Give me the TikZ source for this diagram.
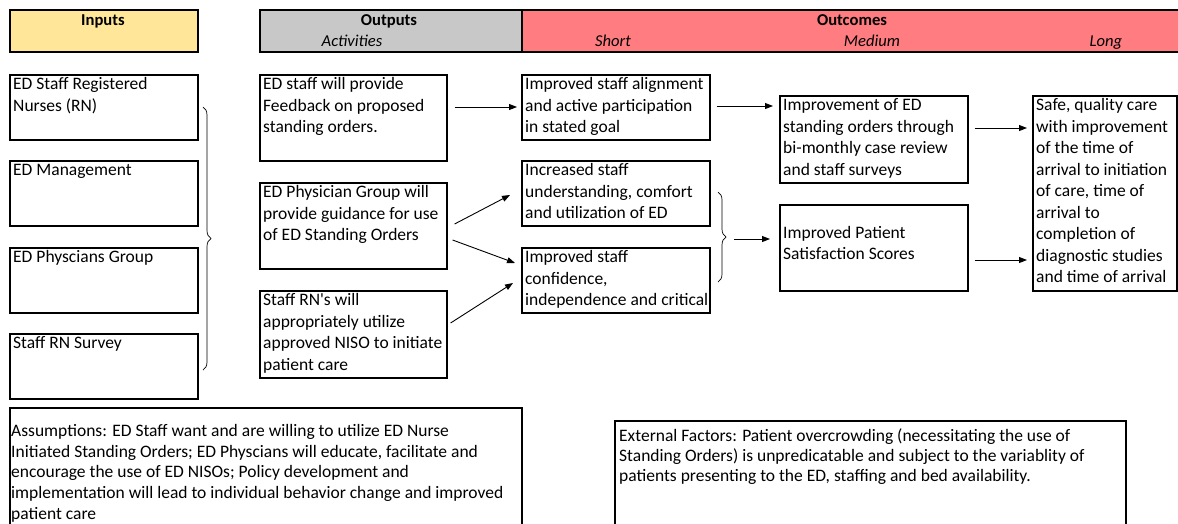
\documentclass[tikz,border=0pt]{standalone}
\usepackage{fontspec}
\setmainfont{Carlito}
\usetikzlibrary{arrows.meta,calc,decorations.pathreplacing}
\definecolor{inyel}{HTML}{FFE699}
\definecolor{outgray}{HTML}{C8C8C8}
\definecolor{outrose}{HTML}{FF7C80}
\newcommand\lmbox[7]{%
  \node[boxst, minimum width={#4-#2}, minimum height={#5-#3}] (#1) at (#2,#3) {};
  \node[txt] (#1t) at ($(#1.north west)+(4,#6)$) {\strut #7};}
\begin{document}
\begin{tikzpicture}[x=1pt,y=-1pt,
  boxst/.style={draw=black, line width=1.6pt, inner sep=0pt, anchor=north west},
  txt/.style={anchor=north west, inner sep=0pt, align=left, font=\fontsize{17.5}{21.5}\selectfont},
  hdr/.style={anchor=base, inner sep=0pt, font=\fontsize{16.6}{20}\selectfont},
  arr/.style={line width=0.9pt, -{Triangle[length=8pt,width=6pt]}},
  brc/.style={line width=0.7pt, decorate, decoration={brace, amplitude=8pt}}]
\useasboundingbox (0,0) rectangle (1178,523);
\clip (0,0) rectangle (1178,523);
% headers
\node[boxst, fill=inyel, minimum width=188, minimum height=42] (hin) at (9,9) {};
\node[boxst, fill=outgray, minimum width=262, minimum height=42] (hout) at (259,9) {};
\node[boxst, fill=outrose, minimum width=662, minimum height=42] (hoc) at (521,9) {};
\node[hdr] (tin) at (103,25) {\textbf{Inputs}};
\node[hdr] (tout) at (389,25) {\textbf{Outputs}};
\node[hdr] (tact) at (352,46.5) {\textit{Activities}};
\node[hdr] (toc) at (852,25) {\textbf{Outcomes}};
\node[hdr] (tsh) at (613,46.5) {\textit{Short}};
\node[hdr] (tmed) at (872,46.5) {\textit{Medium}};
\node[hdr] (tlong) at (1106,46.5) {\textit{Long}};
% inputs
\lmbox{i1}{9}{74}{197}{139}{0.5}{ED Staff Registered\\Nurses (RN)}
\lmbox{i2}{9}{160}{197}{225}{0.5}{ED Management}
\lmbox{i3}{9}{247}{197}{312}{0.5}{ED Physcians Group}
\lmbox{i4}{9}{333}{197}{398}{0.5}{Staff RN Survey}
% activities
\lmbox{a1}{259}{74}{446}{160}{0.5}{ED staff will provide\\Feedback on proposed\\standing orders.}
\lmbox{a2}{259}{182}{446}{268}{0.5}{ED Physician Group will\\provide guidance for use\\of ED Standing Orders}
\lmbox{a3}{259}{290}{446}{377}{0.5}{Staff RN\textquotesingle s will\\appropriately utilize\\approved NISO to initiate\\patient care}
% short
\lmbox{s1}{521}{74}{709}{139}{0.5}{Improved staff alignment\\and active participation\\in stated goal}
\lmbox{s2}{521}{160}{709}{225}{0.5}{Increased staff\\understanding, comfort\\and utilization of ED}
\lmbox{s3}{521}{247}{709}{312}{0.5}{Improved staff\\confidence,\\independence and critical}
% medium
\lmbox{m1}{779}{95}{967}{182}{0.5}{Improvement of ED\\standing orders through\\bi-monthly case review\\and staff surveys}
\lmbox{m2}{779}{204}{967}{290}{19}{Improved Patient\\Satisfaction Scores}
% long
\lmbox{lg}{1032}{95}{1176}{290}{0.5}{Safe, quality care\\with improvement\\of the time of\\arrival to initiation\\of care, time of\\arrival to\\completion of\\diagnostic studies\\and time of arrival}
% braces
\draw[brc] (203,107) -- (203,370);
\draw[brc] (718,192) -- (718,282);
\coordinate (b2tip) at (727,238);
% arrows
\draw[arr] ($(a1.north east)+(7,33)$) -- ($(s1.north west)+(-4,33)$);
\draw[arr] ($(a2.north east)+(7,42)$) -- ($(s2.north west)+(-11,35)$);
\draw[arr] ($(a2.north east)+(5,58)$) -- ($(s3.north west)+(-6,16)$);
\draw[arr] ($(a3.north east)+(3,33)$) -- ($(s3.north west)+(-8,36)$);
\draw[arr] ($(s1.north east)+(6,32)$) -- ($(m1.north west)+(-6,11)$);
\draw[arr] ($(b2tip)+(7,1)$) -- ($(m2.north west)+(-9,35)$);
\draw[arr] ($(m1.north east)+(6,33)$) -- ($(lg.north west)+(-5,33)$);
\draw[arr] ($(m2.north east)+(6,56)$) -- ($(lg.north west)+(-5,165)$);
% bottom boxes
\node[boxst, minimum width=512, minimum height=140] (asm) at (9,407) {};
\node[txt, font=\fontsize{17.5}{20.8}\selectfont] (asmt) at ($(asm.north west)+(2,14.5)$) {\strut Assumptions: ED Staff want and are willing to utilize ED Nurse\\Initiated Standing Orders; ED Physcians will educate, facilitate and\\encourage the use of ED NISOs; Policy development and\\implementation will lead to individual behavior change and improved\\patient care};
\node[boxst, minimum width=511, minimum height=140] (ext) at (614,420) {};
\node[txt, font=\fontsize{17.5}{20}\selectfont] (extt) at ($(ext.north west)+(5,7)$) {\strut External Factors: Patient overcrowding (necessitating the use of\\Standing Orders) is unpredicatable and subject to the variablity of\\patients presenting to the ED, staffing and bed availability.};
\end{tikzpicture}
\end{document}
